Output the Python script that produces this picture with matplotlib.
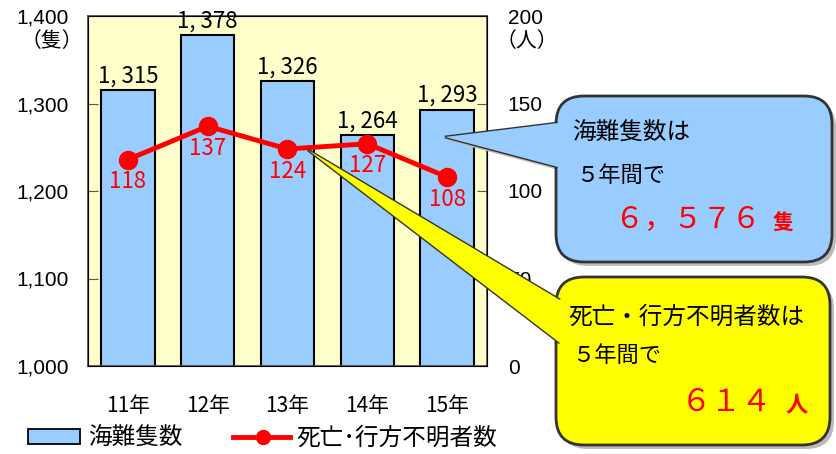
import numpy as np
import matplotlib
matplotlib.use('Agg')
import matplotlib.pyplot as plt
from matplotlib.patches import FancyBboxPatch, Polygon, Rectangle
from matplotlib.lines import Line2D

plt.rcParams['font.family'] = ['Noto Sans CJK JP', 'DejaVu Sans']
NUM = ['Liberation Sans', 'DejaVu Sans']

#%% Dados
years = ['11年', '12年', '13年', '14年', '15年']
ships = [1315, 1378, 1326, 1264, 1293]          # 海難隻数
ship_labels = ['1, 315', '1, 378', '1, 326', '1, 264', '1, 293']
dead = [118, 137, 124, 127, 108]                # 死亡・行方不明者数
left_ticks = [1000, 1100, 1200, 1300, 1400]
right_ticks = [0, 50, 100, 150, 200]

W, H = 837, 454
fig = plt.figure(figsize=(W/100, H/100), dpi=100)

ax = fig.add_axes([88/W, 1-366/H, 399/W, 350/H])
ax.set_facecolor('#FFFFCC')
x = np.arange(len(years))
ax.bar(x, ships, width=0.67, bottom=0, color='#99CCFF', edgecolor='black', linewidth=1.5, zorder=2)
ax.set_ylim(1000, 1400)
ax.set_xlim(-0.5, 4.5)
ax.set_yticks(left_ticks)
ax.set_yticklabels(['{:,}'.format(v) for v in left_ticks], fontsize=15, family=NUM)
ax.set_xticks(x)
ax.set_xticklabels(years, fontsize=15)
ax.tick_params(axis='x', length=0, pad=21)
ax.tick_params(axis='y', direction='in', length=7, color='#555555', pad=14)
for s in ax.spines.values():
    s.set_color('#555555')
    s.set_linewidth(1.3)
for i, v in enumerate(ships):
    ax.text(i, v + 3, ship_labels[i], ha='center', va='bottom', fontsize=16)

ax2 = ax.twinx()
ax2.set_ylim(0, 200)
ax2.set_yticks(right_ticks)
ax2.set_yticklabels([str(v) for v in right_ticks], fontsize=15, family=NUM)
ax2.tick_params(axis='y', direction='in', length=7, color='#555555', pad=15)
ax2.plot(x, dead, color='red', linewidth=3.5, marker='o', markersize=13, zorder=3)
for i, v in enumerate(dead):
    ax2.text(i, v - 6, str(v), color='red', ha='center', va='top', fontsize=16)

fig.text(52/W, 1-41/H, '（隻）', ha='center', va='center', fontsize=15)
fig.text(527/W, 1-41/H, '（人）', ha='center', va='center', fontsize=15)

#%% Legenda
fig.patches.append(Rectangle((28/W, 1-444/H), 52/W, 15/H, transform=fig.transFigure,
                             facecolor='#99CCFF', edgecolor='black', linewidth=1.3))
fig.text(88/W, 1-438/H, '海難隻数', ha='left', va='center', fontsize=17)
fig.lines.append(Line2D([233/W, 290/W], [1-437/H, 1-437/H], transform=fig.transFigure,
                        color='red', linewidth=3.5))
fig.lines.append(Line2D([263/W], [1-437/H], transform=fig.transFigure,
                        color='red', marker='o', markersize=10))
fig.text(296/W, 1-438/H, '死亡･行方不明者数', ha='left', va='center', fontsize=17)

#%% Balões
ov = fig.add_axes([0, 0, 1, 1], facecolor='none')
ov.set_xlim(0, W)
ov.set_ylim(H, 0)
ov.axis('off')

def balloon(x0, y0, x1, y1, tail, fc):
    sh = 4
    ov.add_patch(FancyBboxPatch((x0+sh, y0+sh), x1-x0, y1-y0, boxstyle='round,pad=0,rounding_size=28',
                                facecolor='#BBBBBB', edgecolor='none', zorder=4))
    ov.add_patch(Polygon([(p[0]+sh, p[1]+sh) for p in tail], closed=True,
                         facecolor='#BBBBBB', edgecolor='none', zorder=4))
    ov.add_patch(FancyBboxPatch((x0, y0), x1-x0, y1-y0, boxstyle='round,pad=0,rounding_size=28',
                                facecolor=fc, edgecolor='#333333', linewidth=2, zorder=5))
    ov.add_patch(Polygon(tail, closed=False, facecolor=fc, edgecolor='#333333', linewidth=2, zorder=6))
    ov.add_patch(Polygon([tail[0], tail[1], tail[2]], closed=True, facecolor=fc, edgecolor='none', zorder=6.5))
    ov.plot([tail[0][0]+1, tail[2][0]+1], [tail[0][1]+1, tail[2][1]-1], color=fc, linewidth=2.5, zorder=6.6)

balloon(556, 96, 832, 262, [(558, 123), (445, 137), (558, 167)], '#99CCFF')
balloon(556, 277, 830, 445, [(560, 300), (308, 150), (560, 343)], '#FFFF00')

ov.text(572, 133, '海難隻数は', fontsize=17, va='center', ha='left', zorder=7)
ov.text(576, 175, '５年間で', fontsize=16, va='center', ha='left', zorder=7)
ov.text(615, 219, '６，５７６', fontsize=21, color='red', va='center', ha='left', zorder=7)
ov.text(773, 223, '隻', fontsize=15, color='red', va='center', ha='left', fontweight='bold', zorder=7)

ov.text(568, 317, '死亡・行方不明者数は', fontsize=17, va='center', ha='left', zorder=7)
ov.text(572, 355, '５年間で', fontsize=16, va='center', ha='left', zorder=7)
ov.text(681, 402, '６１４', fontsize=22, color='red', va='center', ha='left', zorder=7)
ov.text(786, 406, '人', fontsize=16, color='red', va='center', ha='left', fontweight='bold', zorder=7)

fig.savefig('out.png', dpi=100)
